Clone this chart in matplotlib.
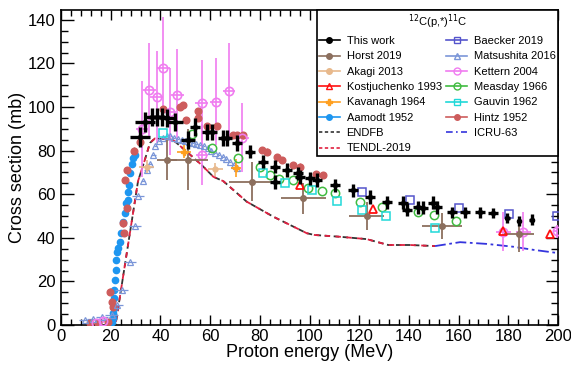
import matplotlib
matplotlib.use("Agg")
import matplotlib.pyplot as plt
from matplotlib.lines import Line2D
from matplotlib.ticker import MultipleLocator

plt.rcParams['font.family'] = ['Liberation Sans', 'DejaVu Sans']

# ---------------- data ----------------
# This work
tw_E = [31.8, 33.8, 36.6, 38.6, 40.6, 42.7, 45.9, 51.1, 53.9, 58.8, 60.8, 65.2, 66.8, 70.8,
        76.1, 81.3, 86.1, 86.1, 90.9, 95.4, 96.2, 100.2, 103.0, 110.3, 117.5, 124.3, 131.2,
        137.6, 139.2, 143.7, 145.7, 149.7, 151.3, 157.3, 162.6, 168.6, 173.8, 179.5, 184.3, 189.5]
tw_s = [86.2, 93.1, 95.4, 95.4, 95.4, 95.0, 93.1, 84.9, 90.8, 88.5, 88.5, 85.8, 85.8, 83.5,
        79.4, 74.8, 72.5, 65.6, 71.1, 69.7, 67.9, 67.4, 66.5, 64.2, 61.9, 58.7, 56.4,
        56.0, 52.8, 54.1, 53.7, 56.0, 54.1, 51.8, 51.8, 51.8, 51.4, 49.1, 47.7, 48.2]
tw_xe = [4, 4, 3, 3, 3, 3, 3, 3, 2, 2, 2, 2, 2, 2,
         2, 2, 2, 2, 2, 2, 2, 2, 2, 2, 2, 2, 2,
         2, 2, 2, 2, 2, 2, 2, 2, 2, 2, 1, 1, 1]
tw_ye = [4.5, 4.5, 4, 4, 4, 4, 4, 4, 4, 3.5, 3.5, 3.5, 3.5, 3.5,
         3, 3, 3, 3, 3, 3, 3, 3, 3, 3, 3, 3, 3,
         3, 3, 3, 3, 3, 3, 2.5, 2.5, 2.5, 2.5, 2.5, 2.5, 2.5]

# Horst 2019
ho_E = [42.7, 51.1, 76.7, 97.5, 123.0, 153.2, 184.3]
ho_s = [75.7, 75.7, 65.7, 58.1, 50.0, 45.4, 41.7]
ho_xe = [4, 8, 9, 9, 7, 8, 6]
ho_ye = [9, 14, 9, 7, 6.5, 6, 8]

# Akagi 2013
ak_E = [34.5, 62.0]
ak_s = [72.5, 71.5]
ak_xe = [3, 3]
ak_ye = [3, 3]

# Kostjuchenko 1993
ko_E = [96.2, 125.5, 178.0, 196.8]
ko_s = [64.2, 53.0, 43.0, 41.6]

# Kavanagh 1964
ka_E = [49.5, 70.5]
ka_s = [79.5, 72.0]
ka_xe = [3, 2]
ka_ye = [3, 4]

# Aamodt 1952
aa_E = [19.5, 20.5, 21.0, 21.0, 21.3, 21.3, 21.5, 21.7, 22.1, 22.1, 22.7, 23.0, 23.7, 24.0,
        25.1, 25.8, 26.2, 26.8, 27.1, 27.5, 27.8, 28.4, 29.1, 29.8]
aa_s = [0.5, 1.5, 3.0, 5.4, 8.0, 12.2, 16.0, 20.6, 25.2, 29.8, 33.6, 35.1, 38.2, 42.1,
        47.4, 51.2, 55.8, 57.3, 61.2, 64.2, 69.9, 74.0, 76.5, 78.0]

# ENDFB / TENDL-2019
ev_E = [20, 22, 31, 33.8, 35.8, 37.8, 45, 50.6, 56.6, 61.3, 65.3, 74.7, 85.4, 98.9, 102,
        112, 123, 131.7, 140.4, 150.5]
en_s = [0, 0.5, 66, 76, 83.5, 85.6, 85, 79.5, 73.4, 68, 66, 56.6, 49.7, 42.1, 41.3,
        40.5, 39.4, 36.7, 36.7, 36.2]
te_s = [0, 0.5, 66, 76, 83.5, 85.6, 85, 79.5, 73.4, 68, 66, 56.6, 49.7, 42.1, 41.3,
        40.5, 39.4, 36.7, 36.7, 36.2]

# Baecker 2019
ba_E = [121.0, 140.4, 160.3, 180.4, 199.5]
ba_s = [61.2, 57.3, 53.8, 50.8, 50.0]

# Matsushita 2016
ma_E = [9.7, 13.0, 16.4, 20.4, 22.4, 24.4, 27.8, 29.8, 31.1, 33.0, 34.5, 35.8, 37.1, 38.0,
        39.5, 41.0, 42.5, 44.0, 45.5, 47.0, 48.5, 50.0, 51.5, 53.0, 54.5, 56.0, 57.5, 59.0,
        60.5, 62.0, 63.5, 65.0, 66.5, 68.0, 69.5, 71.0]
ma_s = [2.3, 2.6, 3.5, 4.6, 9.2, 16.0, 29.0, 45.5, 59.4, 66.0, 71.1, 74.0, 78.0, 82.0,
        84.5, 86.0, 86.5, 86.5, 86.0, 85.5, 85.0, 84.5, 84.0, 83.5, 83.0, 82.5, 82.0, 81.0,
        80.0, 79.0, 78.0, 77.0, 76.0, 74.9, 73.5, 72.0]
ma_xe = [2.5, 2.5, 2.5, 2.5, 2.5, 2.5, 2.5, 2.5, 2.5, 1, 1, 1, 1, 0.5,
         0.5, 0.5, 0.5, 0.5, 0.5, 0.5, 0.5, 0.5, 0.5, 0.5, 0.5, 0.5, 0.5, 0.5,
         0.5, 0.5, 0.5, 0.5, 0.5, 0.5, 0.5, 0.5]

# Kettern 2004
ke_E = [14.0, 17.0, 32.5, 35.5, 38.5, 41.2, 43.9, 46.8, 56.6, 56.8, 62.3, 67.7, 73.0, 178.0, 186.0, 199.5]
ke_s = [1.0, 2.0, 90.0, 107.8, 104.7, 117.7, 97.9, 105.5, 101.7, 78.0, 102.4, 107.5, 86.0, 42.8, 42.8, 43.0]
ke_xe = [2, 2, 2.5, 2.7, 2.5, 2.5, 2.5, 2.5, 2.5, 2.5, 2.5, 2.5, 2.5, 3, 3, 1]
ke_ye = [1, 1, 22, 21.7, 21, 23.7, 20, 21, 20, 14, 20, 22, 16, 9, 9, 3]

# Measday 1966
me_E = [52.8, 60.6, 71.4, 80.1, 84.1, 87.8, 93.5, 99.5, 104.9, 110.3, 120.3, 129.0, 143.8, 149.9, 159.0]
me_s = [87.5, 81.0, 76.5, 72.6, 68.8, 67.2, 66.5, 62.7, 61.5, 60.4, 56.6, 54.3, 52.0, 50.5, 47.7]

# Gauvin 1962
ga_E = [41.2, 81.4, 90.1, 100.9, 111.2, 121.0, 130.8, 150.5]
ga_s = [88.0, 69.9, 65.0, 61.9, 56.9, 52.8, 50.0, 44.6]

# Hintz 1952
hi_E = [11.7, 15.0, 19.0, 19.7, 20.4, 21.0, 25.1, 25.4, 26.4, 25.8, 26.4, 29.5, 31.8, 41.2,
        47.9, 49.2, 50.3, 55.3, 55.3, 58.9, 62.9, 69.3, 70.7, 73.3, 80.8, 82.8, 87.0, 88.8,
        93.2, 96.2, 102.6, 105.6]
hi_s = [0.8, 1.0, 1.2, 15.3, 10.7, 8.4, 46.6, 42.1, 53.5, 66.5, 71.0, 80.0, 84.0, 99.0,
        100.0, 101.0, 94.0, 98.0, 95.0, 91.3, 91.3, 87.2, 87.2, 87.0, 80.3, 79.5, 76.9, 75.7,
        73.4, 72.6, 69.3, 68.8]

# ICRU-63
ic_E = [150.5, 160.6, 171.3, 182.0, 190.0, 200.0]
ic_s = [36.2, 38.0, 37.2, 35.9, 34.5, 33.0]

# ---------------- colours ----------------
C = {
    'tw': 'black', 'ho': '#8c6f5e', 'ak': '#e8b98c', 'ko': '#ff1010', 'ka': '#ffa020',
    'aa': '#1e96f0', 'en': '#333333', 'te': '#e02040', 'ba': '#5555cc', 'ma': '#7b96d8',
    'ke': '#f07cf0', 'me': '#40bb40', 'ga': '#20d8d8', 'hi': '#cd5c5c', 'ic': '#3535dd',
}

fig = plt.figure(figsize=(5.71, 3.65), dpi=100)
ax = fig.add_axes([61 / 571, 40 / 365, 497 / 571, 315 / 365])

# curves
ax.plot(ev_E, en_s, color=C['en'], lw=1.3, ls=(0, (3, 2)), zorder=2)
ax.plot(ev_E, te_s, color=C['te'], lw=1.3, ls=(2, (3, 3)), zorder=2)
ax.plot(ic_E, ic_s, color=C['ic'], lw=1.3, ls=(0, (6, 2, 1.5, 2)), zorder=2)

# data sets
ax.plot(aa_E, aa_s, 'o', color=C['aa'], ms=4.5, mec=C['aa'], zorder=3)
ax.errorbar(hi_E, hi_s, yerr=[1.5] * len(hi_E), fmt='o', color=C['hi'], ms=4.8,
            elinewidth=1, capsize=0, zorder=3)
ax.errorbar(ma_E, ma_s, xerr=ma_xe, fmt='^', color=C['ma'], mfc='none', ms=4.5,
            mew=0.9, elinewidth=0.9, capsize=0, zorder=3)
ax.errorbar(ke_E, ke_s, xerr=ke_xe, yerr=ke_ye, fmt='o', color=C['ke'], mfc='none', ms=6,
            mew=1.2, elinewidth=1.2, capsize=0, zorder=3)
ax.errorbar(ho_E, ho_s, xerr=ho_xe, yerr=ho_ye, fmt='o', color=C['ho'], ms=4,
            elinewidth=1.3, capsize=0, zorder=4)
ax.errorbar(ak_E, ak_s, xerr=ak_xe, yerr=ak_ye, fmt='o', color=C['ak'], ms=3.5,
            elinewidth=1.2, capsize=0, zorder=4)
ax.errorbar(ka_E, ka_s, xerr=ka_xe, yerr=ka_ye, fmt='P', color=C['ka'], ms=4,
            elinewidth=1.2, capsize=0, zorder=4)
ax.plot(me_E, me_s, 'o', color=C['me'], mfc='none', ms=6, mew=1.1, zorder=4)
ax.plot(ga_E, ga_s, 's', color=C['ga'], mfc='none', ms=6, mew=1.1, zorder=4)
ax.plot(ko_E, ko_s, '^', color=C['ko'], mfc='none', ms=6, mew=1.3, zorder=5)
ax.plot(ba_E, ba_s, 's', color=C['ba'], mfc='none', ms=6, mew=1.1, zorder=5)
ax.errorbar(tw_E, tw_s, xerr=tw_xe, yerr=tw_ye, fmt='o', color=C['tw'], ms=3,
            elinewidth=2.4, capsize=0, zorder=6)

# axes styling
ax.set_xlim(0, 200)
ax.set_ylim(0, 144.5)
ax.xaxis.set_major_locator(MultipleLocator(20))
ax.xaxis.set_minor_locator(MultipleLocator(4))
ax.yaxis.set_major_locator(MultipleLocator(20))
ax.yaxis.set_minor_locator(MultipleLocator(5))
ax.tick_params(axis='both', which='both', direction='in', top=True, right=True,
               labelsize=12, width=1.0)
ax.tick_params(axis='x', which='major', length=7, pad=3)
ax.tick_params(axis='x', which='minor', length=4)
ax.tick_params(axis='y', which='major', length=9, pad=4)
ax.tick_params(axis='y', which='minor', length=5)
for sp in ax.spines.values():
    sp.set_linewidth(1.2)

ax.set_xlabel('Proton energy (MeV)', fontsize=13, labelpad=0)
ax.set_ylabel('Cross section (mb)', fontsize=13, labelpad=1)

# legend
def h(color, marker=None, mfc=None, ls='-', ms=4):
    return Line2D([0], [0], color=color, marker=marker, ls=ls, lw=1.2, ms=ms,
                  mfc=(color if mfc is None else mfc), mec=color)

handles = [
    h(C['tw'], 'o'), h(C['ho'], 'o'), h(C['ak'], 'o'), h(C['ko'], '^', 'none', ms=5),
    h(C['ka'], 'P'), h(C['aa'], 'o'), h(C['en'], None, ls=(0, (2, 1.5))),
    h(C['te'], None, ls=(0, (2, 1.5))),
    h(C['ba'], 's', 'none', ms=5), h(C['ma'], '^', 'none', ms=5), h(C['ke'], 'o', 'none', ms=5),
    h(C['me'], 'o', 'none', ms=5), h(C['ga'], 's', 'none', ms=5), h(C['hi'], 'o'),
    h(C['ic'], None, ls=(0, (4, 2, 1, 2))),
]
labels = ['This work', 'Horst 2019', 'Akagi 2013', 'Kostjuchenko 1993', 'Kavanagh 1964',
          'Aamodt 1952', 'ENDFB', 'TENDL-2019',
          'Baecker 2019', 'Matsushita 2016', 'Kettern 2004', 'Measday 1966', 'Gauvin 1962',
          'Hintz 1952', 'ICRU-63']
leg = ax.legend(handles, labels, ncol=2, loc='upper right', bbox_to_anchor=(1.0, 1.0),
                borderaxespad=0, fontsize=8, title=r'$^{12}$C(p,*)$^{11}$C',
                title_fontsize=8, frameon=True, fancybox=False, handlelength=1.9,
                handletextpad=0.6, columnspacing=0.4, labelspacing=0.48,
                borderpad=0.2)
leg.get_frame().set_edgecolor('black')
leg.get_frame().set_linewidth(1.2)
leg.get_frame().set_alpha(1)
leg.set_zorder(10)

fig.savefig('out.png', dpi=100)
